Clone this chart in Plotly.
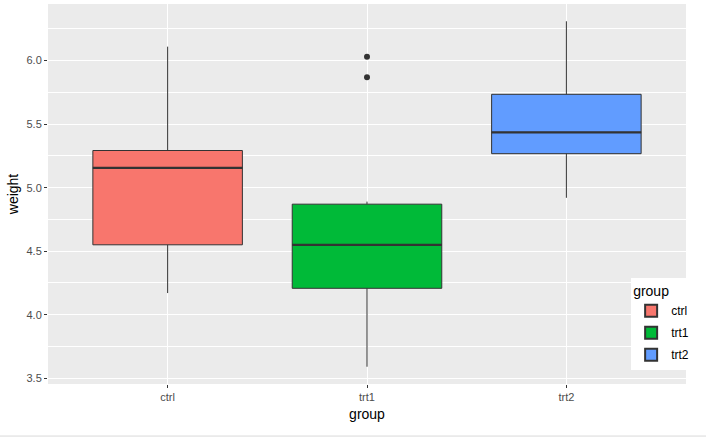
import numpy as np
import plotly.graph_objects as go

groups = ["ctrl", "trt1", "trt2"]
ctrl = [4.17, 5.58, 5.18, 6.11, 4.50, 4.61, 5.17, 4.53, 5.33, 5.14]
trt1 = [4.81, 4.17, 4.41, 3.59, 5.87, 3.83, 6.03, 4.89, 4.32, 4.69]
trt2 = [6.31, 5.12, 5.54, 5.50, 5.37, 5.29, 4.92, 6.15, 5.80, 5.26]
colors = ["#F8766D", "#00BA38", "#619CFF"]
y_ticks = [3.5, 4.0, 4.5, 5.0, 5.5, 6.0]

data = [ctrl, trt1, trt2]
fig = go.Figure()
for i, (g, vals, c) in enumerate(zip(groups, data, colors)):
    v = np.array(vals)
    q1, med, q3 = np.quantile(v, [0.25, 0.5, 0.75])
    iqr = q3 - q1
    inside = v[(v >= q1 - 1.5 * iqr) & (v <= q3 + 1.5 * iqr)]
    out = v[(v < q1 - 1.5 * iqr) | (v > q3 + 1.5 * iqr)]
    fig.add_trace(go.Box(
        x=[i], q1=[q1], median=[med], q3=[q3],
        lowerfence=[inside.min()], upperfence=[inside.max()],
        name=g, width=0.75, legendgroup=g,
        fillcolor=c, line=dict(color="#333333", width=1),
        boxpoints=False, whiskerwidth=0,
        showlegend=True, hoverinfo="y",
    ))
    fig.add_trace(go.Scatter(
        x=[i - 0.375, i + 0.375], y=[med, med], mode="lines", legendgroup=g,
        line=dict(color="#333333", width=2.2), showlegend=False, hoverinfo="skip",
    ))
    if len(out):
        fig.add_trace(go.Scatter(
            x=[i] * len(out), y=out, mode="markers", legendgroup=g,
            marker=dict(color="#333333", size=6), showlegend=False, hoverinfo="y",
        ))

fig.update_layout(
    width=706, height=439,
    margin=dict(l=48, r=20, t=4, b=55),
    paper_bgcolor="white", plot_bgcolor="#EBEBEB",
    font=dict(family="Liberation Sans, Arial, sans-serif", color="#4D4D4D", size=11),
    legend=dict(
        title=dict(text="group", font=dict(size=14, color="#000000")),
        x=0.914, y=0.279, xanchor="left", yanchor="top",
        bgcolor="white", font=dict(size=12, color="#000000"),
        itemsizing="constant", tracegroupgap=3,
    ),
    shapes=[dict(type="line", xref="paper", yref="paper", x0=-0.1, x1=1.1,
                 y0=-0.137, y1=-0.137, line=dict(color="#D9D9D9", width=1))],
)
fig.update_xaxes(
    range=[-0.6, 2.6], tickvals=[0, 1, 2], ticktext=groups,
    showgrid=True, gridcolor="white", gridwidth=1.2, zeroline=False,
    ticks="outside", ticklen=3, tickcolor="#333333",
    title=dict(text="group", font=dict(size=14, color="#000000"), standoff=6),
)
fig.update_yaxes(
    range=[3.454, 6.446], tickvals=y_ticks, ticktext=[f"{v:.1f}" for v in y_ticks],
    showgrid=True, gridcolor="white", gridwidth=1.2, zeroline=False,
    ticks="outside", ticklen=3, tickcolor="#333333",
    minor=dict(tickvals=[3.75, 4.25, 4.75, 5.25, 5.75, 6.25], showgrid=True,
               gridcolor="white", gridwidth=0.5, ticks=""),
    title=dict(text="weight", font=dict(size=14, color="#000000"), standoff=4),
)
fig.write_html("out.html")
